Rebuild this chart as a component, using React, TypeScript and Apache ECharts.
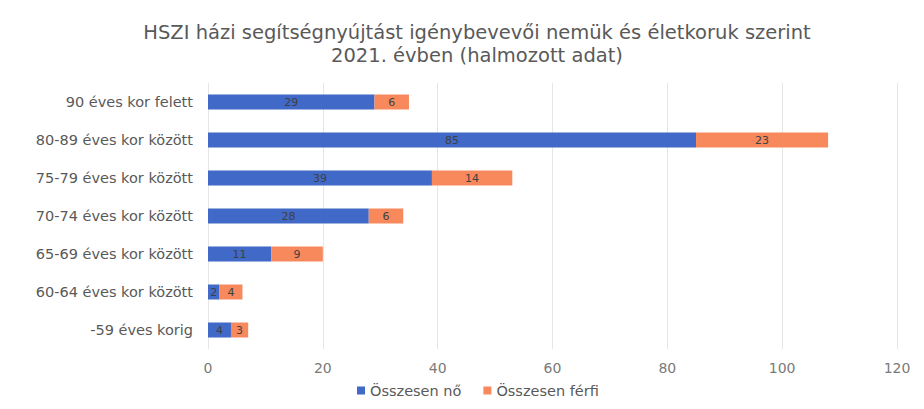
import React, { useEffect, useRef } from "react";
import * as echarts from "echarts";

const categories = [
  "-59 éves korig",
  "60-64 éves kor között",
  "65-69 éves kor között",
  "70-74 éves kor között",
  "75-79 éves kor között",
  "80-89 éves kor között",
  "90 éves kor felett",
];
const noValues = [4, 2, 11, 28, 39, 85, 29];
const ferfiValues = [3, 4, 9, 6, 14, 23, 6];
const xTicks = [0, 20, 40, 60, 80, 100, 120];
const seriesNames = ["Összesen nő", "Összesen férfi"];

export default function App() {
  const ref = useRef<HTMLDivElement>(null);
  useEffect(() => {
    const chart = echarts.init(ref.current!, undefined, { renderer: "svg" });
    const labelStyle = {
      show: true,
      position: "inside" as const,
      color: "#404040",
      fontSize: 11,
      fontFamily: "DejaVu Sans",
    };
    chart.setOption({
      animation: false,
      backgroundColor: "#ffffff",
      title: {
        text: "HSZI házi segítségnyújtást igénybevevői nemük és életkoruk szerint\n2021. évben (halmozott adat)",
        left: 472,
        textAlign: "center",
        top: 16,
        textStyle: {
          color: "#595959",
          fontSize: 19.5,
          fontWeight: "normal",
          fontFamily: "DejaVu Sans",
          lineHeight: 23,
        },
      },
      legend: {
        data: seriesNames,
        bottom: 6,
        left: 352,
        itemWidth: 8,
        itemHeight: 8,
        itemGap: 22,
        icon: "rect",
        textStyle: { color: "#595959", fontSize: 14.5, fontFamily: "DejaVu Sans" },
      },
      grid: { left: 208, right: 27, top: 83, bottom: 60 },
      xAxis: {
        type: "value",
        min: xTicks[0],
        max: xTicks[xTicks.length - 1],
        interval: 20,
        axisLine: { show: false },
        axisTick: { show: false },
        splitLine: { lineStyle: { color: "#e6e6e6" } },
        axisLabel: { color: "#7a7a7a", fontSize: 14, fontFamily: "DejaVu Sans", margin: 12 },
      },
      yAxis: {
        type: "category",
        data: categories,
        axisLine: { show: false },
        axisTick: { show: false },
        axisLabel: { color: "#595959", fontSize: 14.5, fontFamily: "DejaVu Sans", margin: 15 },
      },
      series: [
        {
          name: seriesNames[0],
          type: "bar",
          stack: "total",
          data: noValues,
          barWidth: 15,
          itemStyle: { color: "#4169C8" },
          label: labelStyle,
        },
        {
          name: seriesNames[1],
          type: "bar",
          stack: "total",
          data: ferfiValues,
          barWidth: 15,
          itemStyle: { color: "#F7895C" },
          label: labelStyle,
        },
      ],
    });
    return () => chart.dispose();
  }, []);
  return (
    <div
      ref={ref}
      style={{ position: "fixed", left: 0, top: 0, width: 924, height: 409 }}
    />
  );
}
